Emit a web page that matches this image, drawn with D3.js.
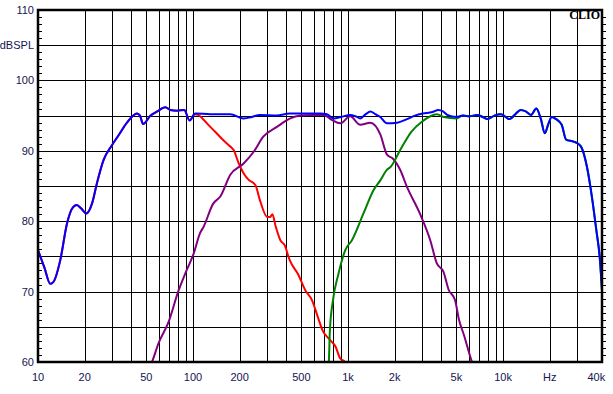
<!DOCTYPE html>
<html>
<head>
<meta charset="utf-8">
<script src="https://cdn.jsdelivr.net/npm/d3@7"></script>
<style>
  body { margin: 0; background: #fff; }
  svg { display: block; }
  .lbl { font-family: "Liberation Sans", Arial, sans-serif; font-size: 11px; fill: #141450; }
</style>
</head>
<body>
<div class="chart"></div>
<script>
// frequency (Hz), level (dBSPL)
const total = [
  [10, 75.9], [11, 73.4], [12, 71.1], [12.6, 71.4], [13.9, 74.4], [15.4, 79.7], [16.6, 81.8],
  [17.8, 82.3], [19, 81.8], [20.5, 81.1], [22.3, 82.5], [24, 85.4], [26.5, 88.7], [30, 90.8],
  [33.1, 92.2], [37.5, 94.0], [43.5, 95.3], [45.5, 95.0], [47.6, 93.8], [53.2, 95.0], [58.8, 95.6],
  [66.3, 96.2], [71.3, 95.8], [78.7, 95.7], [87.8, 95.8], [95.1, 94.3], [103.5, 95.3],
  [129, 95.2], [174, 95.2], [212, 94.6], [240, 94.8], [270, 95.1], [348, 95.0], [420, 95.3],
  [493, 95.3], [661, 95.3], [730, 95.2], [806, 94.6], [900, 94.8], [1033, 95.1], [1120, 94.9],
  [1199, 94.6], [1300, 95.2], [1392, 95.6], [1500, 95.2], [1615, 94.8], [1780, 93.9],
  [2074, 94.0], [2400, 94.5], [2700, 95.0], [3036, 95.3], [3500, 95.5], [3826, 95.8],
  [4100, 95.6], [4362, 95.1], [5023, 94.8], [5500, 95.0], [6109, 94.9], [6797, 95.1],
  [7400, 94.8], [7930, 94.5], [8800, 95.0], [9710, 95.2], [11040, 94.5], [12000, 95.2],
  [13000, 95.8], [14000, 95.6], [15150, 95.1], [16400, 96.0], [17500, 94.6], [18600, 92.5],
  [19600, 93.8], [20600, 94.8], [22000, 94.5], [23900, 93.7], [25500, 91.6], [28600, 91.3],
  [30500, 91.0], [32200, 90.4], [34800, 87.7], [37700, 83.0], [40000, 78.7], [42000, 75.0],
  [43500, 70.2]
];

const woofer = [
  [10, 75.9], [11, 73.4], [12, 71.1], [12.6, 71.4], [13.9, 74.4], [15.4, 79.7], [16.6, 81.8],
  [17.8, 82.3], [19, 81.8], [20.5, 81.1], [22.3, 82.5], [24, 85.4], [26.5, 88.7], [30, 90.8],
  [33.1, 92.2], [37.5, 94.0], [43.5, 95.3], [45.5, 95.0], [47.6, 93.8], [53.2, 95.0], [58.8, 95.6],
  [66.3, 96.2], [71.3, 95.8], [78.7, 95.7], [87.8, 95.8], [95.1, 94.3], [102, 95.2],
  [108, 95.1], [115, 94.6], [123, 93.9], [139, 92.7], [157, 91.5], [174, 90.6], [183, 90.1],
  [195, 88.5], [202, 87.7], [215, 86.6], [228, 85.9], [253, 85.1], [270, 83.0], [301, 80.6],
  [315, 80.6], [325, 81.0], [342, 79.2], [366, 77.3], [390, 76.6], [420, 74.5], [478, 72.4],
  [530, 70.2], [585, 68.8], [643, 66.2], [685, 64.5], [760, 63.2], [830, 62.2], [891, 60.5],
  [958, 60.0], [1000, 59.0]
];

const midrange = [
  [52, 59.0], [54.4, 60.0], [60, 62.7], [69.6, 65.7], [80.8, 70.2], [90, 72.8], [101, 75.4],
  [111, 78.3], [117, 79.2], [135, 82.5], [150, 83.5], [174, 86.6], [212, 88.2], [247, 89.9],
  [284, 92.0], [348, 93.4], [424, 94.6], [493, 95.0], [600, 95.1], [698, 95.1], [786, 94.4],
  [891, 93.9], [1033, 94.9], [1199, 93.7], [1392, 94.0], [1618, 92.3], [1780, 89.5],
  [1965, 88.8], [2170, 87.3], [2397, 84.9], [2905, 81.1], [3392, 77.3], [3741, 74.0],
  [4130, 72.8], [4450, 70.3], [4900, 68.8], [5200, 66.0], [5600, 63.8], [6100, 61.0],
  [6300, 60.0], [6500, 59.0]
];

const tweeterLow = [
  [745, 59.0], [752, 60.0], [764, 64.5], [800, 68.8], [865, 72.4], [960, 75.9], [1060, 77.3],
  [1258, 81.1], [1460, 84.4], [1615, 85.8], [1780, 87.3], [1880, 87.7], [2170, 90.1],
  [2560, 92.7], [2980, 94.1], [3741, 95.2], [4130, 94.8], [5023, 94.6]
];
const tweeter = tweeterLow.concat(total.filter(d => d[0] > 5100));

const yTicks = [60, 70, 80, 90, 100, 110];
const xGrid = [20, 30, 40, 50, 60, 70, 80, 90, 100, 200, 300, 400, 500, 600, 700, 800, 900,
  1000, 2000, 3000, 4000, 5000, 6000, 7000, 8000, 9000, 10000, 20000, 30000];
const xLabels = [
  [10, '10'], [20, '20'], [50, '50'], [100, '100'], [200, '200'], [500, '500'], [1000, '1k'],
  [2000, '2k'], [5000, '5k'], [10000, '10k'], [20000, 'Hz'], [40000, '40k']
];

const W = 613, H = 394;
const plot = {left: 38, right: 602, top: 10, bottom: 362};

const x = d3.scaleLog().domain([10, 43500]).range([plot.left, plot.right]);
const y = d3.scaleLinear().domain([60, 110]).range([plot.bottom, plot.top]);

const svg = d3.select('.chart').append('svg')
  .attr('width', W)
  .attr('height', H);

svg.append('defs').append('clipPath')
    .attr('id', 'plot')
  .append('rect')
    .attr('x', plot.left).attr('y', plot.top)
    .attr('width', plot.right - plot.left).attr('height', plot.bottom - plot.top);

// grid
const grid = svg.append('g').attr('stroke', '#000').attr('stroke-width', 1).attr('shape-rendering', 'crispEdges');
grid.selectAll('.vx')
  .data(xGrid)
  .enter().append('line')
    .attr('x1', d => Math.round(x(d)) + 0.5).attr('x2', d => Math.round(x(d)) + 0.5)
    .attr('y1', plot.top).attr('y2', plot.bottom);
grid.selectAll('.hy')
  .data(d3.range(65, 110, 5))
  .enter().append('line')
    .attr('x1', plot.left).attr('x2', plot.right)
    .attr('y1', d => Math.round(y(d)) + 0.5).attr('y2', d => Math.round(y(d)) + 0.5);

// minor dB ticks on both sides
grid.selectAll('.tl')
  .data(d3.range(61, 110))
  .enter().append('line')
    .attr('x1', plot.left).attr('x2', plot.left + 4)
    .attr('y1', d => Math.round(y(d)) + 0.5).attr('y2', d => Math.round(y(d)) + 0.5);
grid.selectAll('.tr')
  .data(d3.range(61, 110))
  .enter().append('line')
    .attr('x1', plot.right).attr('x2', plot.right + 4)
    .attr('y1', d => Math.round(y(d)) + 0.5).attr('y2', d => Math.round(y(d)) + 0.5);

// curves
const line = d3.line()
  .curve(d3.curveMonotoneX)
  .x(d => x(d[0]))
  .y(d => y(d[1]));

const curves = svg.append('g').attr('clip-path', 'url(#plot)');
[[woofer, '#ff0000'], [midrange, '#800080'], [tweeter, '#008000'], [total, '#0000ff']]
  .forEach(([data, color]) => {
    curves.append('path')
      .attr('d', line(data))
      .style('fill', 'none')
      .style('stroke', color)
      .style('stroke-width', 2)
      .style('stroke-linejoin', 'round');
  });

// frame
svg.append('rect')
  .attr('x', plot.left).attr('y', plot.top)
  .attr('width', plot.right - plot.left).attr('height', plot.bottom - plot.top)
  .attr('fill', 'none')
  .attr('stroke', '#000')
  .attr('stroke-width', 2.5);

// labels
svg.selectAll('.ylab')
  .data(yTicks)
  .enter().append('text')
    .attr('class', 'lbl')
    .attr('text-anchor', 'end')
    .attr('x', 34)
    .attr('y', d => y(d) + 4)
    .text(d => d);

svg.append('text')
  .attr('class', 'lbl')
  .attr('text-anchor', 'end')
  .attr('x', 34)
  .attr('y', y(105) + 4)
  .text('dBSPL');

svg.selectAll('.xlab')
  .data(xLabels)
  .enter().append('text')
    .attr('class', 'lbl')
    .attr('text-anchor', 'middle')
    .attr('x', d => x(d[0]))
    .attr('y', 381)
    .text(d => d[1]);

svg.append('text')
  .attr('x', 600)
  .attr('y', 19)
  .attr('text-anchor', 'end')
  .style('font-family', '"Liberation Serif", "Times New Roman", serif')
  .style('font-weight', 'bold')
  .style('font-size', '12px')
  .text('CLIO');
</script>
</body>
</html>
